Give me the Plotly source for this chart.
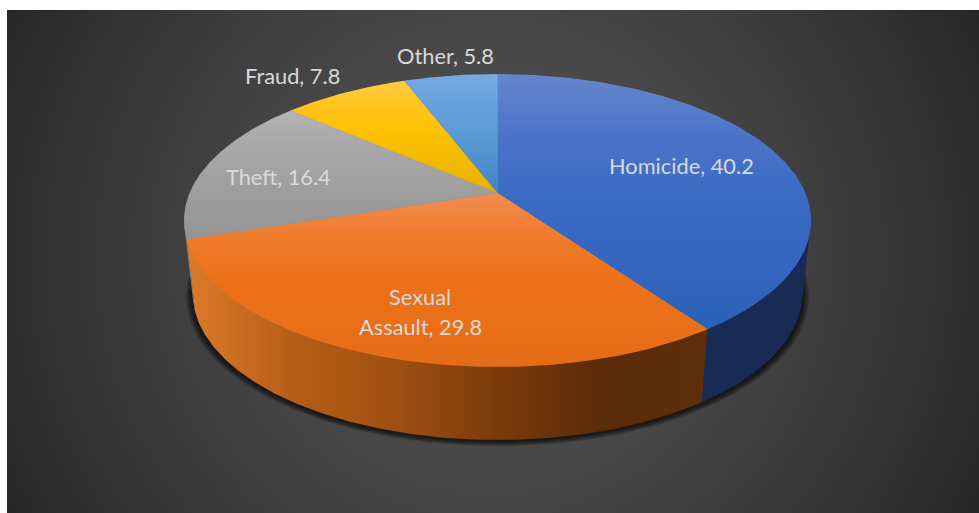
import numpy as np
import plotly.graph_objects as go

# Crime categories and their share of the total
categories = ["Homicide", "Sexual Assault", "Theft", "Fraud", "Other"]
shares = [40.2, 29.8, 16.4, 7.8, 5.8]

# Vertical gradient stops for each slice's top face
top_colors = {
    "Homicide": ["#6585cd", "#4a74c8", "#3a6ac4", "#3566bf", "#2c60b6"],
    "Sexual Assault": ["#f28c50", "#ef7c2c", "#ec7119", "#e96f18", "#e46c16"],
    "Theft": ["#b4b4b4", "#a9a9a9", "#a2a2a2", "#9a9a9a", "#949494"],
    "Fraud": ["#ffcb45", "#ffc31a", "#fcc000", "#f0b800", "#e6b000"],
    "Other": ["#78aae2", "#66a1dc", "#5b9bd5", "#4e90d0", "#4484c8"],
}
# Horizontal gradient stops for the visible side walls
wall_colors = {
    "Homicide": ["#12284f", "#172b55"],
    "Sexual Assault": ["#dc7a2a", "#b75e16", "#a05012", "#7a3b0c", "#5c2b08", "#5e2d0a"],
    "Theft": ["#7d7d7d", "#7d7d7d"],
    "Fraud": ["#806000", "#806000"],
    "Other": ["#2f5f8f", "#2f5f8f"],
}
label_lines = {
    "Homicide": [("Homicide, 40.2", 681, 165)],
    "Sexual Assault": [("Sexual", 420, 296), ("Assault, 29.8", 420, 326)],
    "Theft": [("Theft, 16.4", 278, 176)],
    "Fraud": [("Fraud, 7.8", 292.5, 75)],
    "Other": [("Other, 5.8", 445, 55)],
}

W, H = 979, 513
CX, CY = 497.5, 193.0
A, K, TILT = 308.0, 141.3, 0.188
WALL_DX_SCALE, WALL_Y = 0.972, 266.0


def rim(theta):
    """Perspective projection of a unit-circle angle (clockwise from the top)."""
    xc, yc = np.sin(theta), -np.cos(theta)
    den = 1 - TILT * yc
    return A * xc / den, K * yc / den


def top_xy(theta):
    dx, dy = rim(theta)
    return CX + dx, CY + dy


def bottom_xy(theta):
    dx, dy = rim(theta)
    return CX + WALL_DX_SCALE * dx, WALL_Y + dy


fig = go.Figure()

# Dark radial backdrop
gx = np.arange(9, W + 4, 4.0)
gy = np.arange(12, H + 4, 4.0)
xx, yy = np.meshgrid(gx, gy)
dist = np.hypot(xx - 490, yy - 255) / 553
fig.add_trace(go.Heatmap(
    x=gx, y=gy, z=82 - 44 * dist ** 1.5, zmin=0, zmax=255,
    colorscale=[[0, "#000"], [1, "#fff"]], showscale=False,
    zsmooth="best", hoverinfo="skip",
))

# Soft contact shadow under the drum
ring = np.linspace(0, 2 * np.pi, 361)
sx, sy = bottom_xy(ring)
for grow in [7, 6, 5, 4, 3, 2, 1]:
    scale = 1 + grow / 305
    fig.add_trace(go.Scatter(
        x=CX + (sx - CX) * scale, y=WALL_Y + (sy - WALL_Y) * scale + 1 + grow * 0.2,
        mode="lines", line_width=0, fill="toself",
        fillcolor="rgba(0,0,0,0.13)", hoverinfo="skip", showlegend=False,
    ))

edges = 2 * np.pi * np.cumsum([0] + shares) / sum(shares)


def scale_of(colors):
    return [[i / (len(colors) - 1), c] for i, c in enumerate(colors)]


# The wall is visible between the two angles where the extrusion runs along the rim
probe = np.linspace(0, 2 * np.pi, 3601)
px_, py_ = top_xy(probe)
qx_, qy_ = bottom_xy(probe)
facing = np.gradient(px_) * (qy_ - py_) - np.gradient(py_) * (qx_ - px_)
front = probe[facing < 0]
front_from, front_to = front.min(), front.max()

# Side walls, back slices first; each runs a little under its clockwise neighbour's edge
overlap = np.radians(0.5)
for i in reversed(range(len(categories))):
    name = categories[i]
    lo = max(edges[i] - overlap, front_from)
    hi = min(edges[i + 1], front_to)
    if hi <= lo:
        continue
    th = np.linspace(lo, hi, 181)
    tx, ty = top_xy(th)
    bx, by = bottom_xy(th)
    fig.add_trace(go.Scatter(
        x=np.r_[tx, bx[::-1]], y=np.r_[ty - 2, by[::-1]],
        mode="lines", line_width=0, fill="toself", hoverinfo="skip", showlegend=False,
        fillgradient=dict(type="horizontal", colorscale=scale_of(wall_colors[name]),
                          start=188, stop=705),
    ))

# Neutral disc under the top faces keeps the joins between slices closed
ux, uy = rim(ring)
fig.add_trace(go.Scatter(
    x=CX + ux * 0.99, y=CY + uy * 0.99,
    mode="lines", line_width=0, fill="toself", fillcolor="#9a8070",
    hoverinfo="skip", showlegend=False,
))

# Top faces, each gradient running over the slice's own height
spans = {"Homicide": (74, 330), "Sexual Assault": (193, 367), "Theft": (110, 240),
         "Fraud": (80, 193), "Other": (74, 193)}
for i, name in enumerate(categories):
    th = np.linspace(edges[i], edges[i + 1], 181)
    tx, ty = top_xy(th)
    fig.add_trace(go.Scatter(
        x=np.r_[CX, tx, CX], y=np.r_[CY, ty, CY],
        mode="lines", line_width=0, fill="toself", name=name, showlegend=False,
        hovertemplate=f"{name}: {shares[i]}<extra></extra>",
        fillgradient=dict(type="vertical", colorscale=scale_of(top_colors[name]),
                          start=spans[name][0], stop=spans[name][1]),
    ))

for name in categories:
    for text, px, py in label_lines[name]:
        fig.add_annotation(x=px, y=py, xref="x", yref="y", text=text, showarrow=False,
                           font=dict(family="Lato", size=21.8, color="#d9d9d9"))

fig.update_layout(
    width=W, height=H, margin=dict(l=0, r=0, t=0, b=0),
    paper_bgcolor="white", plot_bgcolor="white", showlegend=False,
    xaxis=dict(range=[0, W], visible=False, fixedrange=True),
    yaxis=dict(range=[H, 0], visible=False, fixedrange=True),
)
fig.write_html("out.html", config={"displayModeBar": False})
